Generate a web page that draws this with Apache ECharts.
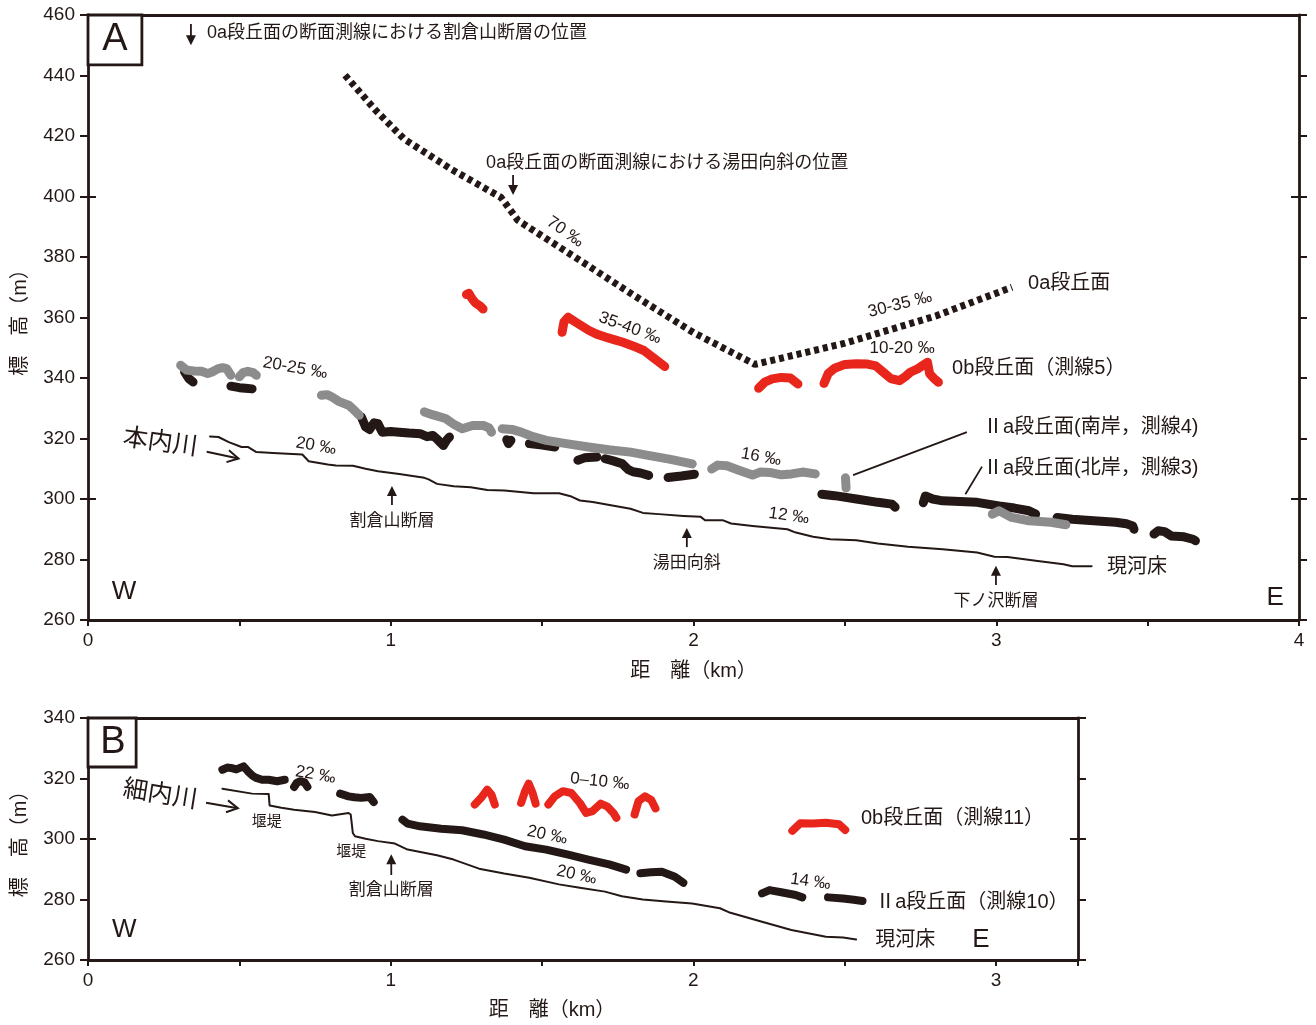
<!DOCTYPE html>
<html><head><meta charset="utf-8">
<script src="https://cdn.jsdelivr.net/npm/echarts@6.0.0/dist/echarts.min.js"></script>
<style>html,body{margin:0;padding:0;background:#fff}#c{width:1316px;height:1025px}</style>
</head><body><div id="c"></div><script>
// ---------- axis ranges / ticks ----------
const yTicksA = [260, 280, 300, 320, 340, 360, 380, 400, 420, 440, 460];
const yTicksB = [260, 280, 300, 320, 340];
const xRangeA = [0, 4];
const xRangeB = [0, 3.271];

// ---------- Panel A (distance km, elevation m) ----------
const oaTerrace = [[0.849,440.1],[0.95,428.5],[1.044,419],[1.2,409],[1.364,399.7],[1.42,392.1],[1.6,380.5],[1.8,367.5],[2.0,355],[2.203,344.5],[2.5,351.5],[2.8,360.5],[3.052,370]];

const obLine5 = [
  [[1.250,367.6],[1.258,368],[1.268,366.3],[1.28,364.8],[1.295,363.8],[1.305,362.8]],
  [[1.566,355.1],[1.572,358.5],[1.586,360.1],[1.61,358.5],[1.655,355.7],[1.68,354.5],[1.711,353.5],[1.74,352.6],[1.767,351.8],[1.80,350.6],[1.836,349.1],[1.87,346.5],[1.905,343.8]],
  [[2.215,336.6],[2.235,338.6],[2.26,339.7],[2.29,340.2],[2.32,340.0],[2.345,338.0]],
  [[2.431,338.2],[2.445,341.5],[2.466,343.2],[2.5,344.5],[2.538,344.7],[2.575,344.6],[2.602,344.0],[2.628,341.8],[2.652,339.8],[2.68,339.1],[2.70,340.5],[2.716,341.9],[2.74,343.0],[2.759,344.3],[2.773,345.2],[2.78,341.4],[2.795,339.8],[2.809,338.6]]
];

const iiaSouth4 = [
  [[0.306,344.2],[0.326,342.6],[0.35,342.3],[0.375,342.2],[0.395,341.5],[0.41,342],[0.43,343.1],[0.445,343.4],[0.458,343.1],[0.472,340.9]],
  [[0.5,340.4],[0.512,341.8],[0.528,342.2],[0.545,341.8],[0.556,340.9]],
  [[0.771,334.3],[0.79,334.5],[0.806,333.7],[0.83,332.2],[0.861,331.0],[0.88,329.3],[0.896,327.7]],
  [[1.111,328.8],[1.14,327.8],[1.181,326.6],[1.21,324.6],[1.236,323.2],[1.27,324.3],[1.306,324.3],[1.325,323.5],[1.333,322.1]],
  [[1.368,323.2],[1.40,323.0],[1.431,322.1],[1.47,320.6],[1.514,319.4],[1.58,318.3],[1.653,317.2],[1.72,316.3],[1.792,315.5],[1.85,314.4],[1.92,313.2],[1.996,311.6]],
  [[2.06,309.9],[2.08,311.2],[2.11,311.0],[2.15,309.5],[2.195,307.9],[2.22,308.9],[2.252,308.8],[2.29,308.0],[2.324,308.3],[2.36,308.9],[2.402,308.3]],
  [[2.502,307.0],[2.504,303.6]],
  [[2.987,295.0],[3.009,296.1],[3.03,295.0],[3.051,293.9],[3.108,292.8],[3.18,292.3],[3.23,291.5]]
];

const iiaNorth3 = [
  [[0.319,342.0],[0.333,339.8],[0.347,338.7]],
  [[0.472,337.3],[0.50,336.8],[0.52,336.6],[0.542,336.4]],
  [[0.903,327.1],[0.917,323.8],[0.93,323.0],[0.945,325.2],[0.958,324.9],[0.972,322.1],[1.0,322.3],[1.028,322.1],[1.06,321.8],[1.097,321.6],[1.12,320.6],[1.139,321.0],[1.155,319.6],[1.174,317.7],[1.185,319.5],[1.194,320.5]],
  [[1.383,319.6],[1.389,318.3],[1.397,319.4]],
  [[1.458,318.3],[1.50,317.8],[1.542,317.2]],
  [[1.618,312.8],[1.64,313.6],[1.681,313.9]],
  [[1.708,313.3],[1.735,312.6],[1.764,311.7],[1.785,309.7],[1.80,309.0],[1.825,308.6],[1.852,307.8]],
  [[1.916,307.1],[1.96,307.6],[2.003,308.2]],
  [[2.424,301.6],[2.466,301.1],[2.538,300.0],[2.609,298.9],[2.655,298.3],[2.666,297.3]],
  [[2.759,298.8],[2.766,301.0],[2.79,300.0],[2.823,299.4],[2.88,299.2],[2.937,298.9],[3.009,297.7],[3.06,297.0],[3.108,296.1],[3.13,295.0]],
  [[3.201,293.9],[3.251,293.3],[3.322,292.8],[3.394,292.3],[3.43,291.8],[3.451,291.1],[3.455,290.0]],
  [[3.521,288.4],[3.535,289.5],[3.556,289.2],[3.578,287.8],[3.62,287.5],[3.65,286.7],[3.658,286.2]]
];

const riverBedA = [[0.403,320.7],[0.431,320.5],[0.465,318.8],[0.507,317.2],[0.528,317.2],[0.556,315.5],[0.611,315.2],[0.708,314.7],[0.729,312.5],[0.792,311.4],[0.819,311.1],[0.875,311.0],[0.917,310.0],[0.958,309.2],[1.028,308.3],[1.111,307.0],[1.125,306.5],[1.153,305.0],[1.208,304.2],[1.264,303.9],[1.319,303.0],[1.375,302.8],[1.472,301.9],[1.556,301.9],[1.597,300.8],[1.625,299.5],[1.667,299.0],[1.764,297.3],[1.792,296.8],[1.833,295.4],[1.886,295.0],[1.967,294.4],[2.024,294.1],[2.038,293.0],[2.096,293.0],[2.124,291.9],[2.195,291.1],[2.31,290.0],[2.338,288.9],[2.395,287.5],[2.452,286.7],[2.538,286.4],[2.609,285.3],[2.709,284.2],[2.823,283.4],[2.937,282.3],[2.994,280.9],[3.037,280.8],[3.137,279.5],[3.222,278.4],[3.251,277.8],[3.315,277.8]];

// ---------- Panel B ----------
const iiaLine10 = [
  [[0.444,322.9],[0.46,323.6],[0.472,323.5],[0.49,323.0],[0.514,324.0],[0.528,322.4],[0.545,320.8],[0.556,320.2],[0.575,319.6],[0.597,319.6],[0.625,319.1],[0.65,319.6]],
  [[0.681,317.2],[0.69,318.6],[0.70,319.1],[0.715,318.8],[0.725,317.2]],
  [[0.833,315.0],[0.861,314.1],[0.88,313.8],[0.903,313.6],[0.931,313.9],[0.944,312.2]],
  [[1.039,306.4],[1.056,305.1],[1.097,304.2],[1.167,303.4],[1.236,302.9],[1.306,301.5],[1.375,299.8],[1.444,297.6],[1.514,296.5],[1.583,294.9],[1.653,293.2],[1.722,291.6],[1.778,289.9]],
  [[1.825,288.7],[1.86,289.0],[1.896,289.2],[1.939,287.5],[1.967,285.5]],
  [[2.227,282.0],[2.252,283.1],[2.295,282.3],[2.338,281.5],[2.36,280.7]],
  [[2.445,280.7],[2.495,280.3],[2.53,279.9],[2.559,279.5]]
];
const obLine11 = [
  [[1.278,311.4],[1.299,313.6],[1.319,316.3],[1.333,314.7],[1.344,311.4]],
  [[1.431,311.9],[1.444,315.8],[1.456,318.3],[1.469,315.2],[1.479,311.7]],
  [[1.521,311.4],[1.542,314.1],[1.569,315.8],[1.597,315.2],[1.625,311.9],[1.646,308.6],[1.667,309.2],[1.694,311.7],[1.715,310.8],[1.736,308.6],[1.746,307.0]],
  [[1.806,308.1],[1.819,312.5],[1.840,314.1],[1.861,312.9],[1.875,310.1]],
  [[2.327,302.7],[2.353,305.2],[2.395,305.1],[2.438,305.4],[2.481,304.9],[2.502,303.0]]
];
const riverBedB = [[0.444,316.6],[0.542,315.0],[0.597,314.9],[0.600,311.1],[0.639,310.3],[0.681,309.7],[0.75,308.9],[0.806,307.8],[0.861,308.6],[0.868,308.1],[0.875,302.0],[0.882,300.9],[0.917,300.1],[0.958,299.3],[1.014,298.5],[1.056,296.5],[1.153,294.6],[1.208,293.2],[1.292,290.2],[1.375,288.6],[1.458,287.2],[1.556,285.0],[1.625,283.9],[1.708,282.6],[1.764,281.1],[1.833,280.0],[1.91,279.3],[1.996,278.7],[2.088,277.1],[2.117,275.8],[2.224,272.7],[2.324,269.9],[2.438,267.7],[2.495,267.4],[2.538,266.8]];

// ---------- annotations (data coordinates) ----------
const labelsA = [
  {x:0.393,y:454.0,t:'0a段丘面の断面測線における割倉山断層の位置',s:18,a:'left'},
  {x:1.315,y:411.1,t:'0a段丘面の断面測線における湯田向斜の位置',s:18,a:'left'},
  {x:1.576,y:388.3,t:'70 ‰',s:17,r:-35},
  {x:1.790,y:356.5,t:'35-40 ‰',s:17,r:-20},
  {x:2.682,y:364.3,t:'30-35 ‰',s:17,r:14},
  {x:2.689,y:349.9,t:'10-20 ‰',s:17},
  {x:3.105,y:371.1,t:'0a段丘面',s:20,a:'left'},
  {x:2.854,y:343.3,t:'0b段丘面（測線5）',s:20,a:'left'},
  {x:0.684,y:343.3,t:'20-25 ‰',s:17,r:-10},
  {x:2.956,y:323.5,t:'Ⅱa段丘面(南岸，測線4)',s:20,a:'left'},
  {x:2.956,y:310.2,t:'Ⅱa段丘面(北岸，測線3)',s:20,a:'left'},
  {x:0.238,y:318.5,t:'本内川',s:25,r:-8},
  {x:0.753,y:317.5,t:'20 ‰',s:17,r:-10},
  {x:2.223,y:313.9,t:'16 ‰',s:17,r:-10},
  {x:2.315,y:294.4,t:'12 ‰',s:17,r:-8},
  {x:1.004,y:292.7,t:'割倉山断層',s:17},
  {x:1.978,y:278.8,t:'湯田向斜',s:17},
  {x:2.999,y:266.3,t:'下ノ沢断層',s:17},
  {x:3.366,y:277.5,t:'現河床',s:20,a:'left'},
  {x:0.119,y:269.3,t:'W',s:26},
  {x:3.921,y:267.3,t:'E',s:26},
  {x:0.089,y:451.8,t:'A',s:38}
];
const arrowsA = [
  {x1:0.340,y1:457.0,x2:0.340,y2:450.0,h:'f'},
  {x1:1.404,y1:407.1,x2:1.404,y2:400.5,h:'f'},
  {x1:1.004,y1:298.0,x2:1.004,y2:304.3,h:'f'},
  {x1:1.978,y1:284.1,x2:1.978,y2:290.4,h:'f'},
  {x1:2.999,y1:271.6,x2:2.999,y2:277.9,h:'f'},
  {x1:0.392,y1:315.6,x2:0.497,y2:313.4,h:'o'},
  {x1:2.527,y1:307.9,x2:2.903,y2:322.1},
  {x1:2.898,y1:301.6,x2:2.953,y2:310.7}
];
const labelsB = [
  {x:0.238,y:314.5,t:'細内川',s:25,r:-9},
  {x:0.591,y:305.7,t:'堰堤',s:15},
  {x:0.870,y:295.8,t:'堰堤',s:15},
  {x:0.752,y:321.2,t:'22 ‰',s:17,r:-10},
  {x:1.691,y:319.0,t:'0–10 ‰',s:17,r:-6},
  {x:1.517,y:301.3,t:'20 ‰',s:17,r:-12},
  {x:1.614,y:288.1,t:'20 ‰',s:17,r:-12},
  {x:1.002,y:283.1,t:'割倉山断層',s:17},
  {x:2.387,y:285.9,t:'14 ‰',s:17,r:-8},
  {x:2.554,y:306.8,t:'0b段丘面（測線11）',s:20,a:'left'},
  {x:2.601,y:279.1,t:'Ⅱa段丘面（測線10）',s:20,a:'left'},
  {x:2.601,y:266.6,t:'現河床',s:20,a:'left'},
  {x:2.950,y:266.8,t:'E',s:26},
  {x:0.120,y:269.9,t:'W',s:26},
  {x:0.082,y:331.9,t:'B',s:38},
  {x:1.533,y:243.3,t:'距　離（km）',s:20}
];
const arrowsB = [
  {x1:0.390,y1:312.0,x2:0.495,y2:310.2,h:'o'},
  {x1:1.002,y1:288.1,x2:1.002,y2:295.0,h:'f'}
];
const boxA = [[0,460],[0.178,443.5]];
const boxB = [[0,340],[0.159,323.8]];

// ---------- chart ----------
const INK = '#231815', RED = '#e8261c', GRAY = '#8c8c8c';
const FONT = "'Liberation Sans','Noto Sans CJK JP',sans-serif";
const chart = echarts.init(document.getElementById('c'), null, {renderer:'canvas'});

function xAx(grid, range, pos, show) {
  return {gridIndex:grid, type:'value', min:range[0], max:range[1], interval:0.5, position:pos,
    axisLine:{show:true, onZero:false, lineStyle:{color:INK,width:2.8}},
    axisTick:{show:show, inside:false, length:6, lineStyle:{color:INK,width:2}},
    axisLabel:{show:show, margin:11, fontSize:19, fontFamily:FONT, color:INK,
      formatter:v => Number.isInteger(v) ? String(v) : ''},
    splitLine:{show:false}};
}
function yAx(grid, ticks, pos, labels, inner) {
  const o = {gridIndex:grid, type:'value', min:ticks[0], max:ticks[ticks.length-1], interval:20, position:pos,
    axisLine:{show:!inner, onZero:false, lineStyle:{color:INK,width:2.8}},
    axisTick:{show:true, inside:!!inner, length:8, lineStyle:{color:INK,width:2}},
    axisLabel:{show:labels, margin:13, fontSize:19, fontFamily:FONT, color:INK},
    splitLine:{show:false}};
  if (inner) o.axisTick.customValues = inner;
  return o;
}

const xAxes = [xAx(0,xRangeA,'bottom',true), xAx(0,xRangeA,'top',false), xAx(1,xRangeB,'bottom',true), xAx(1,xRangeB,'top',false)];
xAxes[0].name = '距　離（km）'; xAxes[0].nameLocation = 'middle'; xAxes[0].nameGap = 41;
xAxes[0].nameTextStyle = {fontSize:20, fontFamily:FONT, color:INK};
const yAxes = [
  yAx(0,yTicksA,'left',true), yAx(0,yTicksA,'right',false), yAx(0,yTicksA,'left',false,[300,400]), yAx(0,yTicksA,'right',false,[300,400]),
  yAx(1,yTicksB,'left',true), yAx(1,yTicksB,'right',false), yAx(1,yTicksB,'left',false,[300]), yAx(1,yTicksB,'right',false,[300])
];
[0,4].forEach(i => { Object.assign(yAxes[i], {name:'標　高（m）', nameLocation:'middle', nameRotate:90, nameGap:58,
  nameTextStyle:{fontSize:20, fontFamily:FONT, color:INK}}); });

const series = [];
function addLine(data, grid, color, width, dashed) {
  series.push({type:'line', data:data, xAxisIndex:grid?2:0, yAxisIndex:grid?4:0, showSymbol:false, symbol:'none',
    silent:true, animation:false, smooth:false,
    lineStyle:dashed ? {color:color, width:width, type:[5,4], cap:'butt'} : {color:color, width:width, cap:'round', join:'round'},
    z: 2});
}
addLine(riverBedA, 0, INK, 2);
iiaNorth3.forEach(s => addLine(s, 0, INK, 9));
iiaSouth4.forEach(s => addLine(s, 0, GRAY, 9));
obLine5.forEach(s => addLine(s, 0, RED, 9));
addLine(oaTerrace, 0, INK, 7, true);
addLine(riverBedB, 1, INK, 2);
iiaLine10.forEach(s => addLine(s, 1, INK, 8));
obLine11.forEach(s => addLine(s, 1, RED, 8));

chart.setOption({
  animation:false,
  backgroundColor:'#fff',
  grid:[{left:88, top:15, width:1211, height:605}, {left:88, top:718, width:990, height:242}],
  xAxis:xAxes, yAxis:yAxes, series:series
});

// ---------- annotation graphics ----------
function P(g, x, y) { return chart.convertToPixel({xAxisIndex:g?2:0, yAxisIndex:g?4:0}, [x, y]); }
const gfx = [];
function addLabels(list, g) {
  list.forEach(l => {
    const p = P(g, l.x, l.y);
    gfx.push({type:'text', x:p[0], y:p[1], rotation:(l.r||0)*Math.PI/180, z:10,
      style:{text:l.t, fontSize:l.s, fontFamily:FONT, fill:INK, align:l.a||'center', verticalAlign:'middle'}});
  });
}
function addArrows(list, g) {
  list.forEach(a => {
    const p1 = P(g, a.x1, a.y1), p2 = P(g, a.x2, a.y2);
    const dx = p2[0]-p1[0], dy = p2[1]-p1[1], L = Math.hypot(dx,dy), ux = dx/L, uy = dy/L;
    let end = p2;
    if (a.h === 'f') end = [p2[0]-ux*7, p2[1]-uy*7];
    gfx.push({type:'line', z:10, shape:{x1:p1[0], y1:p1[1], x2:end[0], y2:end[1]}, style:{stroke:INK, lineWidth:a.h==='o'?2:1.8}});
    if (a.h === 'f') {
      const hl = 10, hw = 5;
      gfx.push({type:'polygon', z:10, shape:{points:[p2, [p2[0]-ux*hl-uy*hw, p2[1]-uy*hl+ux*hw], [p2[0]-ux*hl+uy*hw, p2[1]-uy*hl-ux*hw]]}, style:{fill:INK}});
    } else if (a.h === 'o') {
      const hl = 11, hw = 6;
      gfx.push({type:'polyline', z:10, shape:{points:[[p2[0]-ux*hl-uy*hw, p2[1]-uy*hl+ux*hw], p2, [p2[0]-ux*hl+uy*hw, p2[1]-uy*hl-ux*hw]]}, style:{stroke:INK, lineWidth:2, fill:null}});
    }
  });
}
function addBox(b, g) {
  const a = P(g, b[0][0], b[0][1]), c = P(g, b[1][0], b[1][1]);
  gfx.push({type:'rect', z:9, shape:{x:a[0], y:a[1], width:c[0]-a[0], height:c[1]-a[1]}, style:{fill:'#fff', stroke:INK, lineWidth:2.8}});
}
addBox(boxA, 0); addBox(boxB, 1);
addLabels(labelsA, 0); addArrows(arrowsA, 0);
addLabels(labelsB, 1); addArrows(arrowsB, 1);
chart.setOption({graphic:gfx});
</script></body></html>
